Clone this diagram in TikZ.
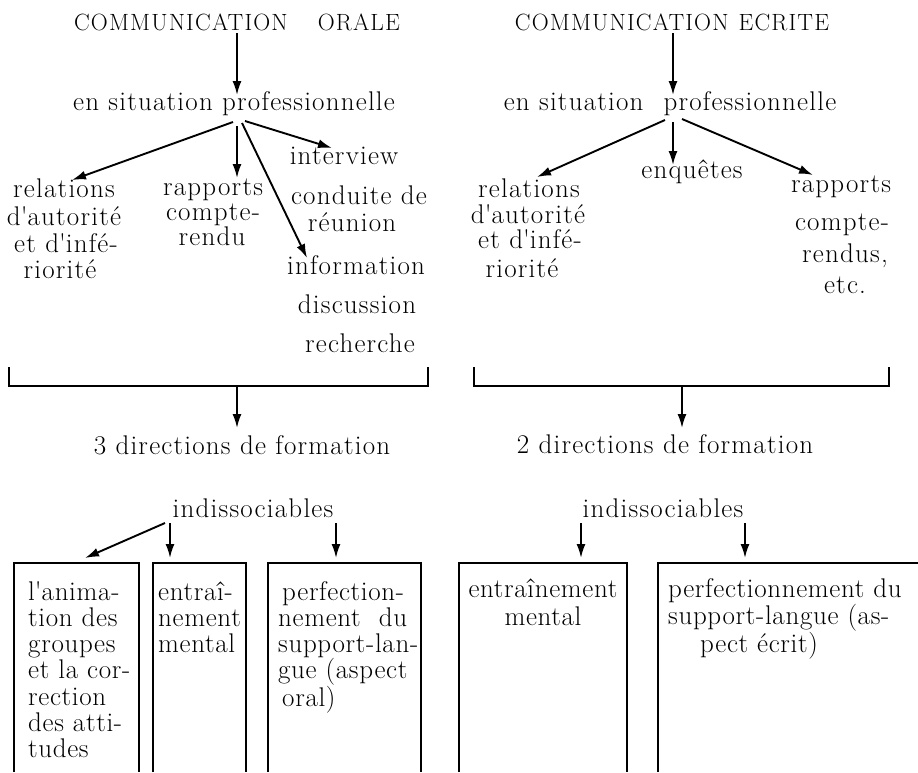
\documentclass[tikz,border=0pt]{standalone}
\usepackage{fontspec}
\usetikzlibrary{arrows.meta}
\newfontfamily\bodyfont[LetterSpace=4.5]{Latin Modern Roman}
\newfontfamily\boxfont[LetterSpace=2.5]{Latin Modern Roman}
\newfontfamily\titlefont[LetterSpace=5]{Latin Modern Roman}
\begin{document}
\begin{tikzpicture}[x=1pt,y=-1pt,
  txt/.style={anchor=base,inner sep=0pt,font=\bodyfont\fontsize{27}{27}\selectfont},
  ttl/.style={anchor=base,inner sep=0pt,font=\titlefont\fontsize{23.5}{23.5}\selectfont},
  boxtxt/.style={anchor=base west,inner sep=0pt,align=left,font=\boxfont\fontsize{27}{26.3}\selectfont},
  arr/.style={line width=1.9pt,-{Latex[length=14pt,width=9pt]}},
  ln/.style={line width=1.9pt},
  bx/.style={line width=2pt}]
\useasboundingbox (0,0) rectangle (918,772);

% ---------------- left column ----------------
\node[ttl] (tL) at (237,30) {COMMUNICATION\hspace{30pt}ORALE};
\node[txt] (sL) at (234,110) {en situation professionnelle};

\node[txt] (rL1) at (64,197) {relations};
\node[txt] (rL2) at (64,225) {d\textquotesingle autorité};
\node[txt] (rL3) at (66,252) {et d\textquotesingle infé-};
\node[txt] (rL4) at (60,278) {riorité};

\node[txt] (pL1) at (213,195) {rapports};
\node[txt] (pL2) at (213,220) {compte-};
\node[txt] (pL3) at (212,245) {rendu};

\node[txt] (iv) at (344,164) {interview};
\node[txt] (cd) at (359,204) {conduite de};
\node[txt] (ru) at (352,231) {réunion};
\node[txt] (inf) at (356,274) {information};
\node[txt] (dis) at (357,313) {discussion};
\node[txt] (rec) at (360,352) {recherche};

\coordinate (aT1) at (237,33);  \coordinate (aT2) at (237,95);
\coordinate (fL1) at (233,122); \coordinate (eL1) at (72,180);
\coordinate (fL2) at (237,126); \coordinate (eL2) at (237,178);
\coordinate (fL3) at (245,121); \coordinate (eL3) at (332,148);
\coordinate (fL4) at (242,123); \coordinate (eL4) at (307,258);
\draw[arr] (aT1) -- (aT2);
\draw[arr] (fL1) -- (eL1);
\draw[arr] (fL2) -- (eL2);
\draw[arr] (fL3) -- (eL3);
\draw[arr] (fL4) -- (eL4);

% bracket left
\coordinate (bL1) at (9,367); \coordinate (bL2) at (9,386);
\coordinate (bL3) at (428,386); \coordinate (bL4) at (428,367);
\draw[ln] (bL1) -- (bL2) -- (bL3) -- (bL4);
\coordinate (bLa) at (237,386); \coordinate (bLb) at (237,428);
\draw[arr] (bLa) -- (bLb);

\node[txt] (dL) at (242,454) {3 directions de formation};
\node[txt] (indL) at (253,517) {indissociables};

\coordinate (iL0) at (165,523); \coordinate (iL1) at (85,558);
\coordinate (iL2a) at (170,523); \coordinate (iL2) at (170,558);
\coordinate (iL3a) at (336,523); \coordinate (iL3) at (336,558);
\draw[arr] (iL0) -- (iL1);
\draw[arr] (iL2a) -- (iL2);
\draw[arr] (iL3a) -- (iL3);

% boxes left
\draw[bx] (14,772) -- (14,563) -- (139,563) -- (139,772);
\draw[bx] (153,772) -- (153,563) -- (246,563) -- (246,772);
\draw[bx] (268,772) -- (268,563) -- (421,563) -- (421,772);

\node[boxtxt,text width=135pt] (b1) at (28,600)
  {l\textquotesingle anima-\\tion des\\groupes\\et la cor-\\rection\\des atti-\\tudes};
\node[boxtxt,text width=100pt] (b2) at (158,600)
  {entraî-\\nement\\mental};
\node[boxtxt,text width=170pt] (b3) at (278,600)
  {\hspace*{4pt}perfection-\\nement\ \ du\\support-lan-\\gue (aspect\\\hspace*{4pt}oral)};

% ---------------- right column ----------------
\node[ttl] (tR) at (672,30) {COMMUNICATION\hspace{10pt}ECRITE};
\node[txt] (sR) at (670,110) {en situation\hspace{20pt}professionnelle};

\node[txt] (rR1) at (529,197) {relations};
\node[txt] (rR2) at (528,223) {d\textquotesingle autorité};
\node[txt] (rR3) at (530,248) {et d\textquotesingle infé-};
\node[txt] (rR4) at (522,277) {riorité};

\node[txt] (enq) at (692,178) {enquêtes};

\node[txt] (pR1) at (841,192) {rapports};
\node[txt] (pR2) at (842,230) {compte-};
\node[txt] (pR3) at (845,262) {rendus,};
\node[txt] (pR4) at (845,293) {etc.};

\coordinate (aR1) at (673,33);  \coordinate (aR2) at (673,95);
\coordinate (fR1) at (665,120); \coordinate (eR1) at (537,177);
\coordinate (fR2) at (673,122); \coordinate (eR2) at (673,165);
\coordinate (fR3) at (682,119); \coordinate (eR3) at (813,175);
\draw[arr] (aR1) -- (aR2);
\draw[arr] (fR1) -- (eR1);
\draw[arr] (fR2) -- (eR2);
\draw[arr] (fR3) -- (eR3);

% bracket right
\coordinate (bR1) at (474,367); \coordinate (bR2) at (474,386);
\coordinate (bR3) at (889,386); \coordinate (bR4) at (889,367);
\draw[ln] (bR1) -- (bR2) -- (bR3) -- (bR4);
\coordinate (bRa) at (682,386); \coordinate (bRb) at (682,428);
\draw[arr] (bRa) -- (bRb);

\node[txt] (dR) at (665,453) {2 directions de formation};
\node[txt] (indR) at (663,517) {indissociables};

\coordinate (iR1a) at (581,523); \coordinate (iR1) at (581,558);
\coordinate (iR2a) at (745,523); \coordinate (iR2) at (745,558);
\draw[arr] (iR1a) -- (iR1);
\draw[arr] (iR2a) -- (iR2);

% boxes right
\draw[bx] (459,772) -- (459,563) -- (627,563) -- (627,772);
\draw[bx] (658,772) -- (658,563) -- (920,563);

\node[txt,text width=165pt,align=center,font=\boxfont\fontsize{27}{28}\selectfont] (b4) at (543,597)
  {entraînement\\mental};
\node[boxtxt,text width=255pt,font=\boxfont\fontsize{27}{27.5}\selectfont] (b5) at (668,597)
  {perfectionnement du\\support-langue (as-\\\hspace*{32pt}pect écrit)};
\end{tikzpicture}
\end{document}
